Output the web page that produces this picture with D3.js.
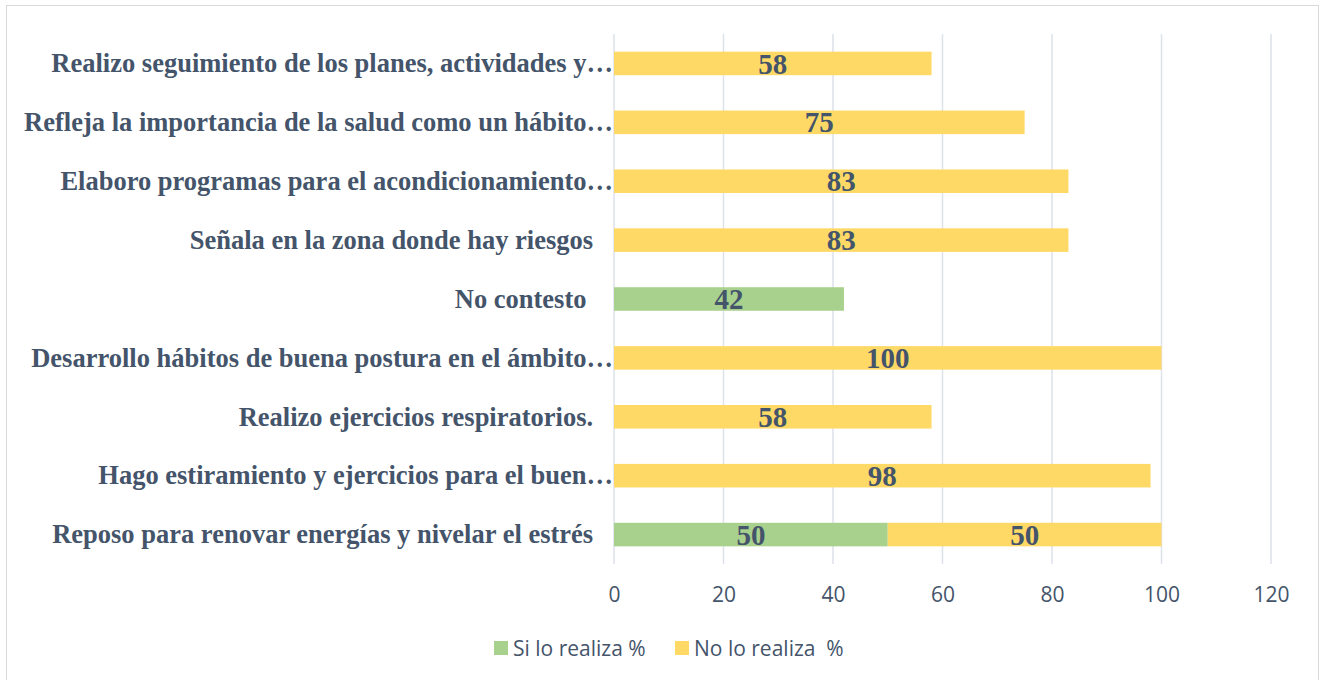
<!DOCTYPE html>
<html>
<head>
<meta charset="utf-8">
<script src="https://cdn.jsdelivr.net/npm/d3@7"></script>
<style>
  body { margin: 0; background: #fff; }
  svg { display: block; }
</style>
</head>
<body>
<svg width="1324" height="680"></svg>
<script>
// categories, top to bottom (trailing spaces are in the original labels)
var categories = [
  'Realizo seguimiento de los planes, actividades y\u2026',
  'Refleja la importancia de la salud como un hábito\u2026',
  'Elaboro programas para el acondicionamiento\u2026',
  'Señala en la zona donde hay riesgos   ',
  'No contesto    ',
  'Desarrollo hábitos de buena postura en el ámbito\u2026',
  'Realizo ejercicios respiratorios.   ',
  'Hago estiramiento y ejercicios para el buen\u2026',
  'Reposo para renovar energías y nivelar el estrés   '
]
var siValues = [0, 0, 0, 0, 42, 0, 0, 0, 50]
var noValues = [58, 75, 83, 83, 0, 100, 58, 98, 50]
var seriesNames = ['Si lo realiza %', 'No lo realiza  %']
var xTicks = [0, 20, 40, 60, 80, 100, 120]

var colors = ['#a9d18e', '#ffd966']
var textColor = '#44546a'

var svg = d3.select('svg')

// outer frame
svg.append('rect')
   .attr('x', 6.5).attr('y', 5.5)
   .attr('width', 1312).attr('height', 690)
   .style('fill', 'none')
   .style('stroke', '#d9d9d9')

var plotLeft = 614, plotRight = 1271, plotTop = 34, plotBottom = 564

var x = d3.scaleLinear()
    .domain([0, 120])
    .range([plotLeft, plotRight])

var y = d3.scaleBand()
    .domain(categories)
    .range([plotTop, plotBottom])
    .paddingInner(0.6)
    .paddingOuter(0.3)

// gridlines
svg.append('g')
   .selectAll('line')
   .data(xTicks)
   .enter()
   .append('line')
   .attr('x1', function(d){ return x(d) })
   .attr('x2', function(d){ return x(d) })
   .attr('y1', plotTop)
   .attr('y2', plotBottom)
   .style('stroke', '#dde1ea')
   .style('stroke-width', 1.5)

// x axis tick labels
var xAxis = d3.axisBottom(x).tickValues(xTicks).tickSize(0).tickPadding(0)
var gx = svg.append('g')
   .attr('transform', 'translate(0,' + (plotBottom + 23) + ')')
   .call(xAxis)
gx.select('.domain').remove()
gx.selectAll('text')
   .style('font-family', '"Open Sans", sans-serif')
   .style('font-size', '21px')
   .style('fill', textColor)

// build stacked rows
var rows = categories.map(function(c, i){
  return { cat: c, si: siValues[i], no: noValues[i] }
})
var stack = d3.stack().keys(['si', 'no'])
var layers = stack(rows)

var layerG = svg.append('g')
  .selectAll('g')
  .data(layers)
  .enter()
  .append('g')
  .style('fill', function(d, i){ return colors[i] })

layerG.selectAll('rect')
  .data(function(d){ return d })
  .enter()
  .append('rect')
  .attr('x', function(d){ return x(d[0]) })
  .attr('y', function(d){ return y(d.data.cat) })
  .attr('width', function(d){ return x(d[1]) - x(d[0]) })
  .attr('height', y.bandwidth())

// value labels
layerG.selectAll('text')
  .data(function(d){ return d.filter(function(p){ return p[1] - p[0] > 0 }) })
  .enter()
  .append('text')
  .attr('x', function(d){ return (x(d[0]) + x(d[1])) / 2 })
  .attr('y', function(d){ return y(d.data.cat) + y.bandwidth() / 2 })
  .attr('dy', '0.35em')
  .attr('text-anchor', 'middle')
  .style('font-family', '"Liberation Serif", "Times New Roman", serif')
  .style('font-weight', 'bold')
  .style('font-size', '29px')
  .style('fill', textColor)
  .text(function(d){ return d[1] - d[0] })

// category labels
svg.append('g')
  .selectAll('text')
  .data(categories)
  .enter()
  .append('text')
  .attr('x', plotLeft - 1)
  .attr('y', function(d){ return y(d) + y.bandwidth() / 2 })
  .attr('dy', '0.33em')
  .attr('text-anchor', 'end')
  .style('white-space', 'pre')
  .style('font-family', '"Liberation Serif", "Times New Roman", serif')
  .style('font-weight', 'bold')
  .style('font-size', '26.5px')
  .style('fill', textColor)
  .text(function(d){ return d })

// legend
var legend = svg.append('g').attr('transform', 'translate(0,648)')
var legendX = [494, 675]
seriesNames.forEach(function(name, i){
  legend.append('rect')
    .attr('x', legendX[i]).attr('y', -7)
    .attr('width', 14).attr('height', 14)
    .style('fill', colors[i])
  legend.append('text')
    .attr('x', legendX[i] + 19)
    .attr('y', 0)
    .attr('dy', '0.36em')
    .style('white-space', 'pre')
    .style('font-family', '"Open Sans", sans-serif')
    .style('font-size', '21px')
    .style('fill', textColor)
    .text(name)
})
</script>
</body>
</html>
